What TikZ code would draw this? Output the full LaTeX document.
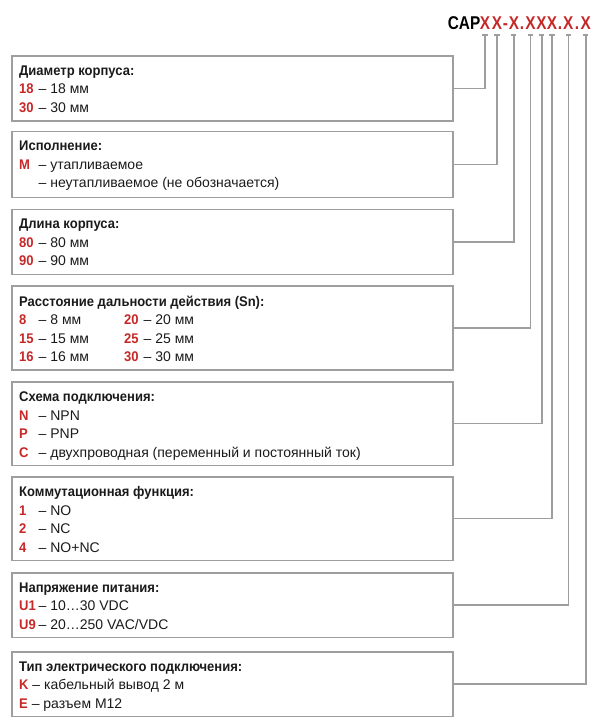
\documentclass[tikz,border=0pt]{standalone}
\usepackage{fontspec}
\setmainfont{Liberation Sans}[BoldFeatures={FakeStretch=0.93}]
\newfontfamily\hdrfont{Liberation Sans}[FakeStretch=0.83,BoldFeatures={FakeStretch=0.83}]
\definecolor{codered}{RGB}{198,40,40}
\definecolor{linegray}{RGB}{158,158,158}
\definecolor{ink}{RGB}{26,26,26}
\newcommand\cd[1]{\textcolor{codered}{\bfseries #1}}
\newcommand\cc[1]{\makebox[19.5pt][l]{\cd{#1}}}
\newcommand\cw[1]{\makebox[105pt][l]{#1}}
\begin{document}
\begin{tikzpicture}[x=1pt,y=-1pt,
  box/.style={draw=linegray, line width=1.6pt, rectangle, minimum width=441pt, anchor=north west, inner sep=0pt},
  txt/.style={anchor=base west, inner sep=0pt, text=ink, font=\fontsize{14}{18.5}\selectfont},
  hdr/.style={inner sep=0pt, anchor=base, font=\hdrfont\bfseries\fontsize{18.5}{18.5}\selectfont, text=codered},
  conn/.style={draw=linegray, line width=1.6pt},
  tcap/.style={draw=linegray, line width=1.2pt}]
\useasboundingbox (0,0) rectangle (605,726);
% header
\node[hdr, text=black, anchor=base east] (cap) at (480.5,29) {CAP};
\node[hdr] (x1) at (485,29) {X};
\node[hdr] (x2) at (497,29) {X};
\node[hdr] (s1) at (505.5,29) {-};
\node[hdr] (x3) at (514,29) {X};
\node[hdr] (s2) at (522,29) {.};
\node[hdr] (x4) at (530.5,29) {X};
\node[hdr] (x5) at (541.5,29) {X};
\node[hdr] (x6) at (552,29) {X};
\node[hdr] (s3) at (560,29) {.};
\node[hdr] (x7) at (568.3,29) {X};
\node[hdr] (s4) at (577,29) {.};
\node[hdr] (x8) at (585.7,29) {X};
% boxes
\node[box, minimum height=65pt] (b1) at (11,55) {};
\node[txt] (t1) at (19,75) {\begin{tabular}[t]{@{}l@{}}\textbf{Диаметр корпуса:}\\ \cc{18}– 18 мм\\ \cc{30}– 30 мм\end{tabular}};
\node[box, minimum height=66pt] (b2) at (11,130.5) {};
\node[txt] (t2) at (19,150.5) {\begin{tabular}[t]{@{}l@{}}\textbf{Исполнение:}\\ \cc{M}– утапливаемое\\ \cc{}– неутапливаемое (не обозначается)\end{tabular}};
\node[box, minimum height=65pt] (b3) at (11,208.5) {};
\node[txt] (t3) at (19,228.5) {\begin{tabular}[t]{@{}l@{}}\textbf{Длина корпуса:}\\ \cc{80}– 80 мм\\ \cc{90}– 90 мм\end{tabular}};
\node[box, minimum height=84pt] (b4) at (11,285) {};
\node[txt] (t4) at (19,306) {\begin{tabular}[t]{@{}l@{}}\textbf{Расстояние дальности действия (Sn):}\\ \cw{\cc{8}– 8 мм}\cc{20}– 20 мм\\ \cw{\cc{15}– 15 мм}\cc{25}– 25 мм\\ \cw{\cc{16}– 16 мм}\cc{30}– 30 мм\end{tabular}};
\node[box, minimum height=83.5pt] (b5) at (11,381) {};
\node[txt] (t5) at (19,401.5) {\begin{tabular}[t]{@{}l@{}}\textbf{Схема подключения:}\\ \cc{N}– NPN\\ \cc{P}– PNP\\ \cc{C}– двухпроводная (переменный и постоянный ток)\end{tabular}};
\node[box, minimum height=83.5pt] (b6) at (11,476) {};
\node[txt] (t6) at (19,496.5) {\begin{tabular}[t]{@{}l@{}}\textbf{Коммутационная функция:}\\ \cc{1}– NO\\ \cc{2}– NC\\ \cc{4}– NO+NC\end{tabular}};
\node[box, minimum height=64.5pt] (b7) at (11,572) {};
\node[txt] (t7) at (19,592) {\begin{tabular}[t]{@{}l@{}}\textbf{Напряжение питания:}\\ \cc{U1}– 10…30 VDC\\ \cc{U9}– 20…250 VAC/VDC\end{tabular}};
\node[box, minimum height=64.5pt] (b8) at (11,651) {};
\node[txt] (t8) at (19,671) {\begin{tabular}[t]{@{}l@{}}\textbf{Тип электрического подключения:}\\ \cd{K} – кабельный вывод 2 м\\ \cd{E} – разъем M12\end{tabular}};
% connectors
\foreach \i/\xx in {1/485,2/497,3/513.7,4/530.5,5/541.8,6/552,7/568.3,8/585.7}{
  \coordinate (k\i) at (\xx,35);
  \draw[conn] (b\i.east) -| (k\i);
  \draw[tcap] ([xshift=-2.6pt]k\i) -- ([xshift=2.6pt]k\i);
}
\end{tikzpicture}
\end{document}
